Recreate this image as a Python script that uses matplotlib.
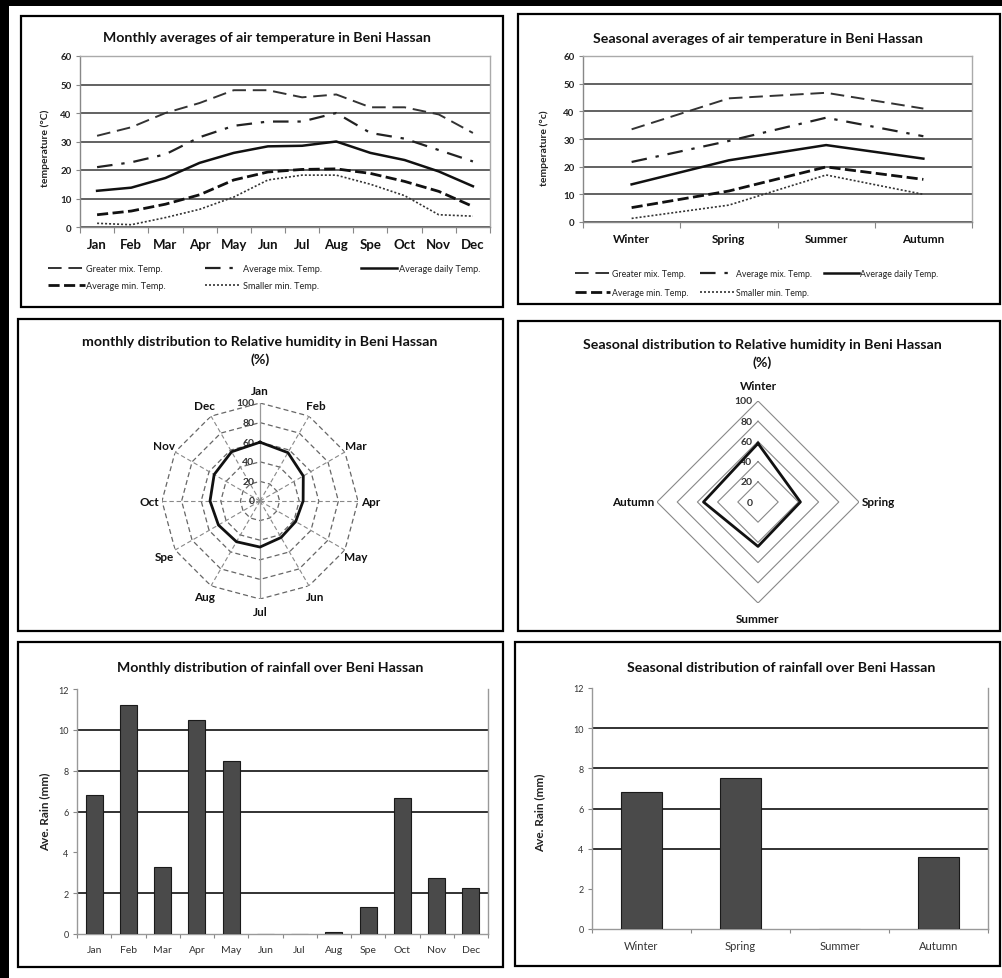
import numpy as np
import matplotlib
matplotlib.use('Agg')
import matplotlib.pyplot as plt
from matplotlib.patches import Rectangle

plt.rcParams['font.family'] = ['Lato', 'DejaVu Sans']

# ---------------- data ----------------
months = ['Jan', 'Feb', 'Mar', 'Apr', 'May', 'Jun', 'Jul', 'Aug', 'Spe', 'Oct', 'Nov', 'Dec']
seasons = ['Winter', 'Spring', 'Summer', 'Autumn']
series_labels = ['Greater mix. Temp.', 'Average mix. Temp.', 'Average daily Temp.',
                 'Average min. Temp.', 'Smaller min. Temp.']

greater_max_m = [32, 35, 40, 43.5, 48, 48, 45.5, 46.5, 42, 42, 39.5, 33]
avg_max_m = [21, 22.7, 25.5, 31.5, 35.5, 37, 37, 40, 33, 31, 27, 23]
avg_daily_m = [12.7, 13.8, 17.2, 22.5, 26, 28.3, 28.5, 30, 26, 23.5, 19.5, 14.3]
avg_min_m = [4.3, 5.6, 8, 11.3, 16.5, 19.3, 20.2, 20.4, 18.8, 16, 12.5, 7.2]
smaller_min_m = [1.3, 0.8, 3.3, 6.2, 10.5, 16.5, 18.2, 18.2, 15, 11, 4.3, 3.8]

greater_max_s = [33.5, 44.7, 46.7, 41]
avg_max_s = [21.7, 29.3, 37.7, 31]
avg_daily_s = [13.6, 22.3, 27.8, 22.9]
avg_min_s = [5.2, 11.2, 19.9, 15.4]
smaller_min_s = [1.3, 6.1, 17, 10]

humidity_m = [60, 57, 51, 44, 42, 43, 47, 48, 49, 51, 54, 58]
humidity_s = [58, 42, 44, 54]
radial_ticks = [0, 20, 40, 60, 80, 100]

rain_m = [6.8, 11.2, 3.3, 10.5, 8.45, 0, 0, 0.12, 1.3, 6.65, 2.75, 2.25]
rain_s = [6.8, 7.5, 0, 3.6]
rain_ticks = [0, 2, 4, 6, 8, 10, 12]
temp_ticks = [0, 10, 20, 30, 40, 50, 60]

# ---------------- figure helpers ----------------
W, H = 1002, 979
fig = plt.figure(figsize=(W / 100, H / 100), dpi=100)
fig.patch.set_facecolor('white')


def rect(x0, y0, x1, y1):
    return [x0 / W, 1 - y1 / H, (x1 - x0) / W, (y1 - y0) / H]


def fx(x):
    return x / W


def fy(y):
    return 1 - y / H


def box(x0, y0, x1, y1, lw=1.6):
    fig.add_artist(Rectangle((fx(x0), fy(y1)), (x1 - x0) / W, (y1 - y0) / H,
                             transform=fig.transFigure, fill=False, ec='black', lw=lw))


# outer heavy frame (top and left)
fig.add_artist(Rectangle((0, fy(7)), 1, 7 / H, transform=fig.transFigure, fc='black', ec='none'))
fig.add_artist(Rectangle((0, 0), 9 / W, 1, transform=fig.transFigure, fc='black', ec='none'))

# panel boxes
box(21, 17, 503, 308)
box(518, 15, 1000, 305)
box(18, 320, 503, 632)
box(518, 322, 1000, 632)
box(18, 643, 503, 968)
box(515, 643, 1000, 967)

title_kw = dict(ha='center', va='center', fontsize=10.2, fontweight='bold', color='#111')

# ---------------- line styles ----------------
styles = [
    dict(color='#333333', lw=1.4, dashes=(7, 3.5)),
    dict(color='#222222', lw=1.6, dashes=(7, 4, 1.5, 4)),
    dict(color='#111111', lw=1.8),
    dict(color='#111111', lw=2.0, dashes=(4, 1.6)),
    dict(color='#333333', lw=1.2, dashes=(1.2, 1.2)),
]


def temp_axes(ax, cats, series, fs_x, legend_anchor, colspacing, labelspacing, leg_fs):
    xs = np.arange(len(cats))
    handles = []
    for vals, st, lab in zip(series, styles, series_labels):
        h, = ax.plot(xs, vals, label=lab, **st)
        handles.append(h)
    ax.set_xlim(-0.5, len(cats) - 0.5)
    ax.set_ylim(0, 60)
    ax.set_yticks(temp_ticks)
    ax.set_yticklabels([str(t) for t in temp_ticks], fontsize=7, fontweight='bold', color='#222')
    ax.tick_params(axis='y', length=3, width=0.8, color='#888', pad=3)
    ax.set_xticks(xs)
    ax.set_xticklabels(cats, fontsize=fs_x, fontweight='bold', color='#111')
    ax.tick_params(axis='x', which='major', length=0, pad=8)
    ax.set_xticks(np.arange(-0.5, len(cats), 1), minor=True)
    ax.tick_params(axis='x', which='minor', length=4, width=0.8, color='#888')
    ax.yaxis.grid(True, color='#555555', lw=1.3)
    ax.set_axisbelow(True)
    for s in ['left', 'bottom']:
        ax.spines[s].set_color('#888')
        ax.spines[s].set_linewidth(1.0)
    for s in ['top', 'right']:
        ax.spines[s].set_color('#aaa')
        ax.spines[s].set_linewidth(1.0)
    order = [0, 3, 1, 4, 2]
    leg = ax.legend([handles[i] for i in order], [series_labels[i] for i in order],
                    ncol=3, loc='upper left', bbox_to_anchor=legend_anchor,
                    bbox_transform=fig.transFigure, frameon=False, fontsize=leg_fs,
                    handlelength=4.0, handletextpad=0.2, columnspacing=colspacing,
                    labelspacing=labelspacing, borderpad=0, borderaxespad=0)
    for t in leg.get_texts():
        t.set_color('#222')
    return leg


# ---------------- top-left ----------------
ax1 = fig.add_axes(rect(80, 57, 490, 228))
temp_axes(ax1, months, [greater_max_m, avg_max_m, avg_daily_m, avg_min_m, smaller_min_m],
          9.5, (fx(48), fy(265)), 4.2, 0.9, 6.6)
fig.text(fx(267), fy(38), 'Monthly averages of air temperature in Beni Hassan', **title_kw)
fig.text(fx(45), fy(148), 'temperature (°C)', rotation=90, ha='center', va='center',
         fontsize=7.5, fontweight='bold', color='#222')

# ---------------- top-right ----------------
ax2 = fig.add_axes(rect(583, 57, 972, 223))
temp_axes(ax2, seasons, [greater_max_s, avg_max_s, avg_daily_s, avg_min_s, smaller_min_s],
          8.5, (fx(575), fy(270)), 1.3, 1.2, 6.3)
fig.text(fx(758), fy(39), 'Seasonal averages of air temperature in Beni Hassan', **title_kw)
fig.text(fx(544), fy(148), 'temperature (°c)', rotation=90, ha='center', va='center',
         fontsize=7.5, fontweight='bold', color='#222')


# ---------------- radars ----------------
def radar(cx, cy, R, cats, vals, ring_style, spoke_style, label_r, side_r, lab_fs):
    ax = fig.add_axes(rect(cx - R, cy - R, cx + R, cy + R), projection='polar')
    ax.set_theta_zero_location('N')
    ax.set_theta_direction(-1)
    ax.set_ylim(0, 100)
    ax.axis('off')
    n = len(cats)
    ang = np.linspace(0, 2 * np.pi, n, endpoint=False)
    angc = np.append(ang, ang[0])
    for r in radial_ticks[1:]:
        ax.plot(angc, [r] * (n + 1), **ring_style)
    if spoke_style is not None:
        for i, a in enumerate(ang):
            st = dict(spoke_style)
            if i == 0 or (n % 2 == 0 and i == n // 2):
                st = dict(color='#999', lw=0.9)
            ax.plot([a, a], [0, 100], **st)
    v = list(vals) + [vals[0]]
    ax.plot(angc, v, color='#111', lw=2.0, zorder=5)
    for a, c in zip(ang, cats):
        s = np.sin(a)
        if side_r is not None and s > 0.9:
            ax.text(a, side_r, c, ha='left', va='center', fontsize=lab_fs,
                    fontweight='bold', color='#111', clip_on=False)
        elif side_r is not None and s < -0.9:
            ax.text(a, side_r, c, ha='right', va='center', fontsize=lab_fs,
                    fontweight='bold', color='#111', clip_on=False)
        else:
            ax.text(a, label_r, c, ha='center', va='center', fontsize=lab_fs,
                    fontweight='bold', color='#111', clip_on=False)
    for r in radial_ticks:
        ax.annotate(str(r), xy=(0, r), xytext=(-4, 0), textcoords='offset points',
                    ha='right', va='center', fontsize=7.5, fontweight='bold',
                    color='#333', annotation_clip=False)
    return ax


radar(260, 502, 98, months, humidity_m,
      dict(color='#666', lw=0.9, dashes=(4, 2.5)),
      dict(color='#888', lw=0.8, dashes=(4, 2.5)), 113, None, 8.5)
fig.text(fx(260), fy(342), 'monthly distribution to Relative humidity in Beni Hassan', **title_kw)
fig.text(fx(260), fy(360), '(%)', **title_kw)

radar(758, 503, 101, seasons, humidity_s,
      dict(color='#888', lw=0.8), None, 115, 103, 8.5)
fig.text(fx(762), fy(345), 'Seasonal distribution to Relative humidity in Beni Hassan', **title_kw)
fig.text(fx(762), fy(363), '(%)', **title_kw)


# ---------------- rainfall bars ----------------
def rain_axes(ax, cats, vals, width, grid_levels, fs_x):
    xs = np.arange(len(cats))
    ax.bar(xs, vals, width=width, color='#4a4a4a', edgecolor='#1a1a1a', lw=0.8, zorder=3)
    ax.set_xlim(-0.5, len(cats) - 0.5)
    ax.set_ylim(0, 12)
    for g in grid_levels:
        ax.axhline(g, color='#222', lw=1.3, zorder=1)
    ax.set_yticks(rain_ticks)
    ax.set_yticklabels([str(t) for t in rain_ticks], fontsize=6.5, color='#333')
    ax.tick_params(axis='y', length=3, width=0.8, color='#888', pad=3)
    ax.set_xticks(xs)
    ax.set_xticklabels(cats, fontsize=fs_x, color='#333')
    ax.tick_params(axis='x', which='major', length=0, pad=8)
    ax.set_xticks(np.arange(-0.5, len(cats), 1), minor=True)
    ax.tick_params(axis='x', which='minor', length=3, width=0.8, color='#888')
    ax.spines['top'].set_visible(False)
    for s in ['left', 'bottom', 'right']:
        ax.spines[s].set_color('#999')
        ax.spines[s].set_linewidth(1.0)


ax5 = fig.add_axes(rect(77, 690, 488, 935))
rain_axes(ax5, months, rain_m, 0.5, [2, 6, 8, 10], 7.5)
fig.text(fx(270), fy(668), 'Monthly distribution of rainfall over Beni Hassan', **title_kw)
fig.text(fx(45), fy(812), 'Ave. Rain (mm)', rotation=90, ha='center', va='center',
         fontsize=8.5, fontweight='bold', color='#222')

ax6 = fig.add_axes(rect(592, 689, 988, 930))
rain_axes(ax6, seasons, rain_s, 0.41, [4, 6, 8, 10], 8)
fig.text(fx(781), fy(668), 'Seasonal distribution of rainfall over Beni Hassan', **title_kw)
fig.text(fx(540), fy(813), 'Ave. Rain (mm)', rotation=90, ha='center', va='center',
         fontsize=8.5, fontweight='bold', color='#222')

fig.savefig('out.png', dpi=100, facecolor='white')
